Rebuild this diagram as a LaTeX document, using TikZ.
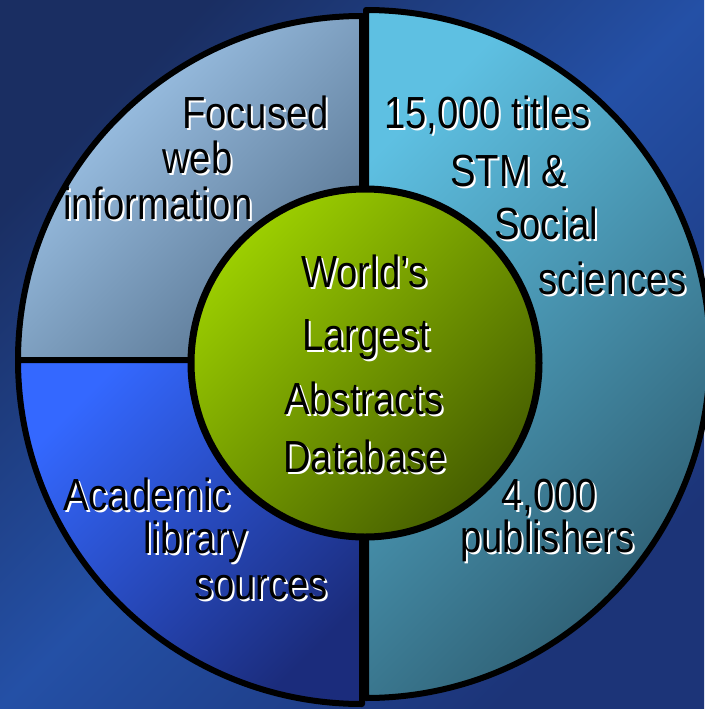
\documentclass[tikz,border=0pt]{standalone}
\usepackage{fontspec}
\setmainfont{Liberation Sans}[FakeStretch=0.85]
\usepackage{tikz}
\usetikzlibrary{positioning}

\definecolor{bgdark}{HTML}{1A2E62}
\definecolor{bgmid}{HTML}{2450A6}
\definecolor{bglow}{HTML}{1C3478}
\definecolor{webhi}{HTML}{A6CDF2}
\definecolor{weblo}{HTML}{56728E}
\definecolor{libhi}{HTML}{3468FF}
\definecolor{liblo}{HTML}{1B2C7C}
\definecolor{pubhi}{HTML}{5EC0E2}
\definecolor{publo}{HTML}{2D5C70}
\definecolor{corehi}{HTML}{9CCF00}
\definecolor{corelo}{HTML}{465E00}

% black text with a white drop shadow
\newcommand\shtxt[1]{\rlap{\kern2pt\raisebox{-2pt}{\color{white}#1}}#1}

\begin{document}
\begin{tikzpicture}[x=1pt,y=-1pt,
    txt/.style={anchor=base west,inner sep=0pt,font=\fontsize{45}{45}\selectfont},
    sector/.style={draw=black,line width=6pt,line join=round}]
    \useasboundingbox (0,0) rectangle (704,709);
    % background
    \fill[top color=bgdark,bottom color=bglow,middle color=bgmid,shading angle=45]
        (0,0) rectangle (704,709);
    % outer ring
    \draw[sector,top color=webhi,bottom color=weblo,shading angle=45]
        (362,360) -- ++(180:344) arc[start angle=180,end angle=270,radius=344] -- cycle;
    \draw[sector,top color=libhi,bottom color=liblo,shading angle=45]
        (362,360) -- ++(90:344) arc[start angle=90,end angle=180,radius=344] -- cycle;
    \draw[sector,top color=pubhi,bottom color=publo,shading angle=45]
        (366,354) -- ++(-90:344) arc[start angle=-90,end angle=90,radius=344] -- cycle;
    % centre
    \draw[draw=black,line width=7pt,top color=corehi,bottom color=corelo,shading angle=45]
        (365,363) circle[radius=174];

    \node[txt] (web1) at (182,128) {\shtxt{Focused}};
    \node[txt] (web2) at (162,173) {\shtxt{web}};
    \node[txt] (web3) at (63,219) {\shtxt{information}};

    \node[txt] (tit1) at (384,128) {\shtxt{15,000 titles}};
    \node[txt] (tit2) at (450,186) {\shtxt{STM \&}};
    \node[txt] (tit3) at (494,239) {\shtxt{Social}};
    \node[txt] (tit4) at (538,294) {\shtxt{sciences}};

    \node[txt] (cor1) at (301,287) {\shtxt{World's}};
    \node[txt] (cor2) at (302,350) {\shtxt{Largest}};
    \node[txt] (cor3) at (284,414) {\shtxt{Abstracts}};
    \node[txt] (cor4) at (283,472) {\shtxt{Database}};

    \node[txt] (pub1) at (501,510) {\shtxt{4,000}};
    \node[txt] (pub2) at (460,552) {\shtxt{publishers}};

    \node[txt] (lib1) at (63,510) {\shtxt{Academic}};
    \node[txt] (lib2) at (143,553) {\shtxt{library}};
    \node[txt] (lib3) at (194,599) {\shtxt{sources}};
\end{tikzpicture}
\end{document}
